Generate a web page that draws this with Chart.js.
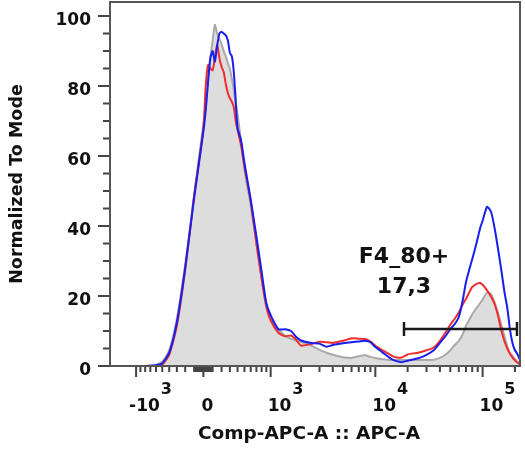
<!DOCTYPE html>
<html>
<head>
<meta charset="utf-8">
<script src="https://cdn.jsdelivr.net/npm/chart.js@4.4.1/dist/chart.umd.min.js"></script>
<style>
  html, body { margin: 0; padding: 0; background: #fff; }
  #wrap { width: 525px; height: 450px; }
</style>
</head>
<body>
<div id="wrap"><canvas id="c"></canvas></div>
<script>
// channel values (Comp-APC-A), shared by all three histograms
const xValues = [
  -1820, -1500, -1200, -1000, -800, -600, -500, -400, -300, -200, -100,
  0, 25, 50, 75, 100, 125, 150, 175, 200, 225, 250, 275, 300, 325, 350, 375, 400, 450,
  500, 600, 700, 800, 900, 1000, 1200, 1400, 1600, 1800, 2000, 2500, 3000, 3500,
  4000, 5000, 6000, 7000, 8000, 9000, 10000, 11000, 12000, 13500, 15000, 17500,
  20000, 25000, 30000, 35000, 40000, 45000, 50000, 55000, 60000, 65000, 70000,
  75000, 80000, 85000, 90000, 95000, 100000, 110000, 120000, 130000, 140000,
  150000, 160000, 170000, 180000, 190000, 200000, 210000, 223000
];

const grayValues = [
  0, 0, 0, 0, 0, 0.4, 1.2, 4.5, 13.5, 29, 49,
  69, 74, 82, 88, 93, 97.5, 95, 93.5, 92, 90, 88.5, 86.5, 85, 82, 79, 75, 72, 64,
  56, 46, 35, 25, 17, 13.5, 10.5, 8.6, 7.8, 7.2, 6.9, 5.8, 4.6, 3.8,
  3.2, 2.5, 2.3, 2.8, 3.1, 2.6, 2.3, 2.0, 1.9, 1.7, 1.7, 1.7,
  1.7, 1.7, 1.7, 1.8, 2.3, 3.2, 4.5, 6.0, 7.2, 9.0, 11.5,
  13.2, 14.8, 16, 17, 18, 19, 21, 20.5, 18, 15,
  11.5, 8.5, 5.5, 3.6, 2.9, 2.0, 1.3, 0.9
];

const redValues = [
  0, 0, 0, 0, 0, 0, 0.4, 3.2, 11.5, 27.5, 48.5,
  68, 80, 86, 85, 84.5, 88, 92, 88, 85.5, 84, 80.5, 78, 76.5, 75.5, 74, 70, 67.5, 63,
  57, 47, 35, 25, 17, 13, 9.5, 8.5, 8.7, 7.5, 5.8, 6.3, 6.9, 6.8,
  6.6, 7.2, 7.9, 7.8, 7.7, 7.0, 5.8, 5.0, 4.3, 3.4, 2.6, 2.4,
  3.3, 3.8, 4.5, 5.3, 7.2, 9.5, 11.8, 13.5, 15.3, 17.5, 19.2,
  21, 22.6, 23.2, 23.6, 23.7, 23.2, 21.6, 19.8, 17.5, 14,
  10, 7, 5, 3.5, 2.4, 1.6, 1.0, 0.5
];

const blueValues = [
  0, 0, 0, 0, 0, 0.2, 0.8, 3.8, 12.5, 28, 48,
  67, 73, 81, 88, 90, 87, 91.5, 95, 95.5, 95, 94.5, 93, 89.5, 88.5, 84, 76, 68, 64.5,
  58, 47.5, 37, 27, 18, 14.5, 10.5, 10.5, 10, 8.3, 7.3, 6.6, 6.4, 5.5,
  6.0, 6.5, 6.8, 7.0, 7.2, 6.8, 5.4, 4.5, 3.6, 2.4, 1.6, 1.1,
  1.5, 2.2, 3.2, 4.5, 6.6, 8.5, 10.5, 12, 14, 18.5, 24,
  27.5, 30.5, 33.5, 36.5, 39.5, 41.5, 45.5, 44, 39, 33,
  27, 21, 16.5, 10.3, 6.5, 4.5, 3.5, 1.7
];

// axis ticks
const xMajorTicks = [-1000, 0, 1000, 10000, 100000];
const xTickBase = ['-10', '0', '10', '10', '10'];
const xTickSup = ['3', '', '3', '4', '5'];
const yMajorTicks = [0, 20, 40, 60, 80, 100];
const yMinorStep = 5;

// gate F4_80+
const gateRange = [18500, 209000];
const gateLevel = 10.6;
const gateName = 'F4_80+';
const gatePercent = '17,3';

// biexponential-like transform for the x axis
const W = 500;
const biex = v => Math.asinh(v / W);
const biexInv = t => W * Math.sinh(t);

class BiexScale extends Chart.Scale {
  determineDataLimits() {
    this.min = this.options.min;
    this.max = this.options.max;
  }
  buildTicks() {
    return xMajorTicks.map(v => ({ value: v }));
  }
  getLabelForValue(v) {
    return String(v);
  }
  configure() {
    super.configure();
    this._t0 = biex(this.min);
    this._t1 = biex(this.max);
  }
  getPixelForValue(v) {
    return this.getPixelForDecimal((biex(v) - this._t0) / (this._t1 - this._t0));
  }
  getValueForPixel(p) {
    return biexInv(this._t0 + this.getDecimalForPixel(p) * (this._t1 - this._t0));
  }
}
BiexScale.id = 'biex';
BiexScale.defaults = {};
Chart.register(BiexScale);

function xMinorTicks() {
  const out = [];
  for (const d of [10, 100]) {
    for (let k = 1; k <= 9; k++) { out.push(k * d); out.push(-k * d); }
  }
  for (const d of [1000, 10000]) {
    for (let k = 2; k <= 9; k++) out.push(k * d);
  }
  out.push(200000);
  return out;
}

const toPoints = vals => vals.map((v, i) => ({ x: xValues[i], y: v }));

const FONT = '"DejaVu Sans", sans-serif';

const facsAxes = {
  id: 'facsAxes',
  afterDraw(chart) {
    const { ctx, chartArea: a, scales: { x, y } } = chart;
    ctx.save();

    // ticks
    ctx.strokeStyle = '#444';
    ctx.lineWidth = 2;
    ctx.beginPath();
    for (let v = 0; v <= 100; v += yMinorStep) {
      const py = y.getPixelForValue(v);
      const len = yMajorTicks.includes(v) ? 12 : 7;
      ctx.moveTo(a.left - len, py);
      ctx.lineTo(a.left, py);
    }
    for (const v of xMajorTicks) {
      const px = x.getPixelForValue(v);
      ctx.moveTo(px, a.bottom);
      ctx.lineTo(px, a.bottom + 11);
    }
    for (const v of xMinorTicks()) {
      const px = x.getPixelForValue(v);
      ctx.moveTo(px, a.bottom);
      ctx.lineTo(px, a.bottom + 6);
    }
    ctx.stroke();

    // frame
    ctx.strokeStyle = '#555';
    ctx.lineWidth = 2;
    ctx.strokeRect(a.left, a.top, a.right - a.left, a.bottom - a.top);

    ctx.fillStyle = '#111';
    // y tick labels
    ctx.font = 'bold 17px ' + FONT;
    ctx.textAlign = 'right';
    ctx.textBaseline = 'alphabetic';
    for (const v of yMajorTicks) {
      ctx.fillText(String(v), 91, y.getPixelForValue(v) + 9);
    }

    // x tick labels with superscript exponents
    ctx.textAlign = 'left';
    xMajorTicks.forEach((v, i) => {
      const px = x.getPixelForValue(v);
      ctx.font = 'bold 17px ' + FONT;
      const base = xTickBase[i];
      const bw = ctx.measureText(base).width;
      let left;
      if (base === '0') left = px + 4 - bw / 2;
      else if (base.startsWith('-')) left = px - 7;
      else left = px - 3;
      ctx.fillText(base, left, a.bottom + 45);
      if (xTickSup[i]) {
        ctx.font = 'bold 16px ' + FONT;
        ctx.fillText(xTickSup[i], left + bw + 1, a.bottom + 28);
      }
    });

    // axis titles
    ctx.font = 'bold 18.5px ' + FONT;
    ctx.textAlign = 'center';
    ctx.fillText('Comp-APC-A :: APC-A', (a.left + a.right) / 2 - 6, a.bottom + 73);
    ctx.save();
    ctx.translate(22, 184);
    ctx.rotate(-Math.PI / 2);
    ctx.font = 'bold 17.5px ' + FONT;
    ctx.fillText('Normalized To Mode', 0, 0);
    ctx.restore();

    // gate bar
    const gx0 = x.getPixelForValue(gateRange[0]);
    const gx1 = x.getPixelForValue(gateRange[1]);
    const gy = y.getPixelForValue(gateLevel);
    ctx.strokeStyle = '#1a1a1a';
    ctx.lineWidth = 2.5;
    ctx.beginPath();
    ctx.moveTo(gx0, gy); ctx.lineTo(gx1, gy);
    ctx.moveTo(gx0, gy - 7); ctx.lineTo(gx0, gy + 7);
    ctx.moveTo(gx1, gy - 7); ctx.lineTo(gx1, gy + 7);
    ctx.stroke();

    // gate label
    ctx.font = 'bold 22px ' + FONT;
    ctx.textAlign = 'center';
    ctx.fillText(gateName, gx0, y.getPixelForValue(29.4));
    ctx.fillText(gatePercent, gx0, y.getPixelForValue(20.9));

    ctx.restore();
  }
};

new Chart(document.getElementById('c'), {
  type: 'line',
  data: {
    datasets: [
      {
        label: 'control',
        data: toPoints(grayValues),
        borderColor: '#a9a9a9',
        backgroundColor: '#dddddd',
        fill: 'origin',
        borderWidth: 2,
        order: 3
      },
      {
        label: 'red',
        data: toPoints(redValues),
        borderColor: 'rgb(240, 45, 45)',
        fill: false,
        borderWidth: 2,
        order: 2
      },
      {
        label: 'blue',
        data: toPoints(blueValues),
        borderColor: 'rgb(25, 30, 240)',
        fill: false,
        borderWidth: 2,
        order: 1
      }
    ]
  },
  options: {
    responsive: true,
    maintainAspectRatio: false,
    animation: false,
    devicePixelRatio: 1,
    layout: { padding: { left: 110, right: 5, top: 2, bottom: 84 } },
    elements: { point: { radius: 0 }, line: { tension: 0.2 } },
    plugins: { legend: { display: false }, tooltip: { enabled: false } },
    scales: {
      x: { type: 'biex', min: -1820, max: 223000, display: false, ticks: { display: false } },
      y: { type: 'linear', min: 0, max: 104, display: false }
    }
  },
  plugins: [facsAxes]
});
</script>
</body>
</html>
